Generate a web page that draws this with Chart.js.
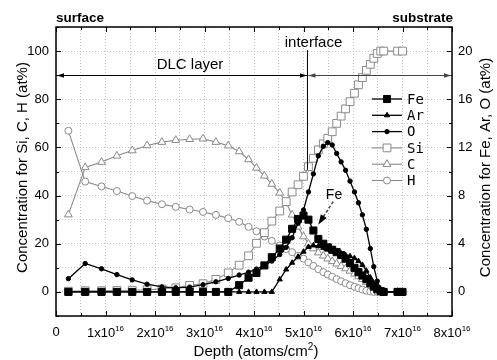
<!DOCTYPE html>
<html>
<head>
<meta charset="utf-8">
<title>Depth profile</title>
<script src="https://cdn.jsdelivr.net/npm/chart.js@4.4.1/dist/chart.umd.min.js"></script>
<style>
body { margin: 0; background: #fff; }
canvas { display: block; }
</style>
</head>
<body>
<canvas id="profileChart" width="497" height="360"></canvas>
<script>
// depth, in units of 1x10^16 atoms/cm2
var depth = [0.25, 0.59, 0.92, 1.23, 1.54, 1.84, 2.14, 2.42, 2.70, 2.97, 3.23, 3.48,
  3.70, 3.89, 4.05, 4.21, 4.36, 4.52, 4.65, 4.77, 4.89, 5.00,
  5.10, 5.20, 5.30, 5.40, 5.49, 5.58, 5.67, 5.76, 5.85, 5.94,
  6.03, 6.11, 6.19, 6.27, 6.35, 6.42, 6.49, 6.56, 6.62, 6.90, 7.00];

// right axis: Fe, Ar, O (at%)
var feData = [0, 0, 0, 0, 0, 0, 0, 0, 0, 0, 0, 0,
  0.56, 1.18, 1.58, 2.2, 2.88, 3.6, 4.34, 5.24, 6.06, 6.34,
  6.0, 5.1, 4.4, 4.0, 3.7, 3.5, 3.3, 3.06, 2.76, 2.4,
  2.0, 1.64, 1.36, 1.06, 0.72, 0.44, 0.22, 0.06, 0, 0, 0];
var arData = [0, 0, 0, 0, 0, 0, 0, 0, 0, 0, 0, 0,
  0, 0, 0, 0, 0, 1.04, 1.86, 2.42, 2.92, 3.34,
  3.74, 3.86, 3.8, 3.66, 3.52, 3.4, 3.3, 3.2, 3.06, 2.96,
  2.8, 2.56, 2.24, 1.76, 1.2, 0.7, 0.32, 0.08, 0, 0, 0];
var oData = [1.1, 2.36, 1.92, 1.44, 1.0, 0.64, 0.42, 0.34, 0.4, 0.6, 0.84, 1.12,
  1.4, 1.64, 1.9, 2.2, 2.56, 3.1, 3.7, 4.5, 5.7, 6.8,
  8.3, 9.8, 11.3, 12.1, 12.4, 12.2, 11.5, 10.8, 10.1, 9.2,
  8.3, 7.4, 6.4, 5.2, 3.6, 2.1, 0.9, 0.2, 0, 0, 0];

// left axis: Si, C, H (at%)
var siData = [0.3, 0.5, 0.5, 0.6, 0.7, 0.9, 1.2, 1.7, 2.7, 3.4, 5.2, 7.9,
  11.1, 15, 20.2, 24.6, 29.4, 33.6, 37.5, 41.5, 44.5, 48,
  52, 55.5, 59, 61.5, 63.8, 66.5, 70, 73, 76, 79,
  82.5, 86, 89, 92, 94.5, 97, 99, 100, 100, 100, 100];
var cData = [32.1, 51.7, 53.9, 56.5, 58.7, 60.8, 62.2, 63.0, 63.4, 63.6, 62.2, 60.7,
  58.3, 55, 51.5, 48.2, 44.8, 41.1, 37, 32, 27, 23,
  20, 18, 16.3, 15, 13.8, 12.7, 11.7, 10.7, 9.7, 8.7,
  7.5, 6.4, 5.3, 4.1, 3.0, 2.0, 1.1, 0.4, 0, 0, 0];
var hData = [66.9, 45.8, 43.8, 41.9, 39.8, 37.9, 36.4, 35.3, 34.2, 33.2, 32.0, 30.6,
  29.1, 27.0, 25.2, 23, 21.2, 19.3, 17.8, 16.5, 15, 13.8,
  12.2, 10.8, 9.4, 8.2, 7.2, 6.3, 5.3, 4.4, 3.6, 2.8,
  2.1, 1.5, 1.0, 0.5, 0.2, 0, 0, 0, 0, 0, 0];

var xLabels = [0, 1, 2, 3, 4, 5, 6, 7, 8];
var interfaceDepth = 5.08;

var FONT = "'Liberation Sans', Arial, sans-serif";
var GREY = '#8a8a8a';

function points(vals) {
  return depth.map(function (d, i) { return { x: d, y: vals[i] }; });
}

function blackSeries(label, vals, style, r) {
  return {
    label: label, data: points(vals), yAxisID: 'y2',
    borderColor: '#000', backgroundColor: '#000', borderWidth: 1.3,
    pointStyle: style, pointRadius: r, pointBorderWidth: 1,
    pointBackgroundColor: '#000', pointBorderColor: '#000'
  };
}
function greySeries(label, vals, style, r) {
  return {
    label: label, data: points(vals), yAxisID: 'y',
    borderColor: GREY, backgroundColor: '#fff', borderWidth: 1.1,
    pointStyle: style, pointRadius: r, pointBorderWidth: 1,
    pointBackgroundColor: '#fff', pointBorderColor: GREY
  };
}

var datasets = [
  blackSeries('Fe', feData, 'rect', 5),
  blackSeries('Ar', arData, 'triangle', 3),
  blackSeries('O', oData, 'circle', 2.2),
  greySeries('Si', siData, 'rect', 5.5),
  greySeries('C', cData, 'triangle', 4.5),
  greySeries('H', hData, 'circle', 3.5)
];

// draws a run of [text, font, rise] parts centred on cx
function drawRich(ctx, parts, cx, y) {
  var total = 0;
  parts.forEach(function (p) { ctx.font = p[1]; total += ctx.measureText(p[0]).width; });
  var x = cx - total / 2;
  ctx.textAlign = 'left';
  ctx.textBaseline = 'alphabetic';
  parts.forEach(function (p) {
    ctx.font = p[1];
    ctx.fillText(p[0], x, y - p[2]);
    x += ctx.measureText(p[0]).width;
  });
}

function head(ctx, x, y, ang, len, half) {
  ctx.save();
  ctx.translate(x, y);
  ctx.rotate(ang);
  ctx.beginPath();
  ctx.moveTo(0, 0);
  ctx.lineTo(-len, -half);
  ctx.lineTo(-len, half);
  ctx.closePath();
  ctx.fill();
  ctx.restore();
}

function twoWayArrow(ctx, x1, x2, y, color) {
  ctx.strokeStyle = color;
  ctx.fillStyle = color;
  ctx.lineWidth = 1.2;
  ctx.beginPath();
  ctx.moveTo(x1, y);
  ctx.lineTo(x2, y);
  ctx.stroke();
  head(ctx, x1, y, Math.PI, 7, 2.2);
  head(ctx, x2, y, 0, 7, 2.2);
}

function marker(ctx, style, x, y, r, fill, stroke) {
  ctx.beginPath();
  if (style === 'rect') {
    var s = r * Math.SQRT1_2;
    ctx.rect(x - s, y - s, 2 * s, 2 * s);
  } else if (style === 'triangle') {
    ctx.moveTo(x, y - r);
    ctx.lineTo(x + r * 0.866, y + r * 0.5);
    ctx.lineTo(x - r * 0.866, y + r * 0.5);
    ctx.closePath();
  } else {
    ctx.arc(x, y, r, 0, Math.PI * 2);
  }
  ctx.fillStyle = fill;
  ctx.fill();
  ctx.strokeStyle = stroke;
  ctx.lineWidth = 1;
  ctx.stroke();
}

var decor = {
  id: 'decor',
  afterDraw: function (chart) {
    var ctx = chart.ctx, a = chart.chartArea;
    var sx = chart.scales.x, sy = chart.scales.y, sy2 = chart.scales.y2;
    ctx.save();

    // frame
    ctx.strokeStyle = '#000';
    ctx.lineWidth = 1.5;
    ctx.strokeRect(a.left, a.top, a.right - a.left, a.bottom - a.top);

    // tick marks pointing inwards
    ctx.lineWidth = 1;
    ctx.beginPath();
    sx.ticks.forEach(function (t) {
      var p = Math.round(sx.getPixelForValue(t.value)) + 0.5;
      var len = Number.isInteger(t.value) ? 5 : 3;
      ctx.moveTo(p, a.bottom); ctx.lineTo(p, a.bottom - len);
      ctx.moveTo(p, a.top); ctx.lineTo(p, a.top + len);
    });
    sy.ticks.forEach(function (t) {
      var p = Math.round(sy.getPixelForValue(t.value)) + 0.5;
      var len = t.value % 20 === 0 ? 5 : 3;
      ctx.moveTo(a.left, p); ctx.lineTo(a.left + len, p);
    });
    sy2.ticks.forEach(function (t) {
      var p = Math.round(sy2.getPixelForValue(t.value)) + 0.5;
      var len = t.value % 4 === 0 ? 5 : 3;
      ctx.moveTo(a.right, p); ctx.lineTo(a.right - len, p);
    });
    ctx.stroke();

    // x tick labels with superscript exponent
    ctx.fillStyle = '#000';
    xLabels.forEach(function (v) {
      var p = sx.getPixelForValue(v);
      if (v === 0) {
        drawRich(ctx, [['0', '13px ' + FONT, 0]], p, 336);
      } else {
        drawRich(ctx, [[v + 'x10', '13px ' + FONT, 0], ['16', '8px ' + FONT, 6]], p, 337);
      }
    });

    // axis titles
    drawRich(ctx, [['Depth (atoms/cm', '15px ' + FONT, 0], ['2', '10px ' + FONT, 6],
      [')', '15px ' + FONT, 0]], (a.left + a.right) / 2 + 2, 356);
    ctx.font = '15px ' + FONT;
    ctx.textAlign = 'center';
    ctx.textBaseline = 'middle';
    ctx.save();
    ctx.translate(23, (a.top + a.bottom) / 2 - 4);
    ctx.rotate(-Math.PI / 2);
    ctx.fillText('Concentration for Si, C, H (at%)', 0, 0);
    ctx.restore();
    ctx.save();
    ctx.translate(486, (a.top + a.bottom) / 2 - 4);
    ctx.rotate(-Math.PI / 2);
    ctx.fillText('Concentration for Fe, Ar, O (at%)', 0, 0);
    ctx.restore();

    // surface / substrate
    ctx.font = 'bold 13.5px ' + FONT;
    ctx.textBaseline = 'alphabetic';
    ctx.textAlign = 'left';
    ctx.fillText('surface', a.left, 21.5);
    ctx.textAlign = 'right';
    ctx.fillText('substrate', a.right + 1, 21.5);

    // interface marker and layer arrows
    var xi = sx.getPixelForValue(interfaceDepth);
    ctx.strokeStyle = '#000';
    ctx.lineWidth = 1;
    ctx.beginPath();
    ctx.moveTo(xi, sy.getPixelForValue(100.4));
    ctx.lineTo(xi, sy.getPixelForValue(50.7));
    ctx.stroke();
    var ya = Math.round(sy.getPixelForValue(90)) + 0.5;
    twoWayArrow(ctx, a.left + 1, xi - 0.5, ya, '#000');
    twoWayArrow(ctx, xi + 1, a.right - 1, ya, '#444');

    ctx.fillStyle = '#000';
    ctx.font = '15px ' + FONT;
    ctx.textAlign = 'center';
    ctx.fillText('interface', 313.5, 46.5);
    ctx.fillText('DLC layer', 190, 69);
    ctx.font = '14px ' + FONT;
    ctx.fillText('Fe', 334, 198.5);

    // dashed pointer to the Fe peak
    var p1x = sx.getPixelForValue(5.6), p1y = sy.getPixelForValue(37.5);
    var p2x = sx.getPixelForValue(5.30), p2y = sy.getPixelForValue(28);
    var ang = Math.atan2(p2y - p1y, p2x - p1x);
    ctx.setLineDash([3, 2]);
    ctx.lineWidth = 1.5;
    ctx.beginPath();
    ctx.moveTo(p1x, p1y);
    ctx.lineTo(p2x - Math.cos(ang) * 8, p2y - Math.sin(ang) * 8);
    ctx.stroke();
    ctx.setLineDash([]);
    head(ctx, p2x, p2y, ang, 10, 3.5);

    // legend
    ctx.font = '14px "DejaVu Sans Mono", monospace';
    ctx.textAlign = 'left';
    ctx.textBaseline = 'middle';
    chart.data.datasets.forEach(function (ds, i) {
      var y = 99 + i * 16.3;
      ctx.strokeStyle = ds.borderColor;
      ctx.lineWidth = ds.borderWidth;
      ctx.beginPath();
      ctx.moveTo(372, y);
      ctx.lineTo(402, y);
      ctx.stroke();
      marker(ctx, ds.pointStyle, 387, y, ds.pointRadius, ds.pointBackgroundColor, ds.pointBorderColor);
      ctx.fillStyle = '#000';
      ctx.fillText(ds.label, 407, y + 1);
    });

    ctx.restore();
  }
};

var gridOpts = { color: '#c4c4c4', lineWidth: 1, drawTicks: false };
var borderOpts = { display: false, dash: [1, 2] };

var profileChart = new Chart(document.getElementById('profileChart'), {
  type: 'line',
  data: { datasets: datasets },
  options: {
    responsive: false,
    animation: false,
    devicePixelRatio: 1,
    layout: { padding: { top: 27 } },
    plugins: { legend: { display: false }, tooltip: { enabled: false } },
    elements: { line: { tension: 0 } },
    scales: {
      x: {
        type: 'linear', min: 0, max: 8,
        ticks: { stepSize: 0.5, display: false },
        grid: gridOpts, border: borderOpts,
        afterFit: function (s) { s.height = 44; }
      },
      y: {
        position: 'left', min: -10, max: 110,
        ticks: {
          stepSize: 10, padding: 7, color: '#000',
          font: { family: FONT, size: 13 },
          callback: function (v) { return (v >= 0 && v % 20 === 0) ? v : ''; }
        },
        grid: gridOpts, border: borderOpts,
        afterFit: function (s) { s.width = 56; }
      },
      y2: {
        position: 'right', min: -2, max: 22,
        ticks: {
          stepSize: 2, padding: 6, color: '#000',
          font: { family: FONT, size: 13 },
          callback: function (v) { return (v >= 0 && v % 4 === 0) ? v : ''; }
        },
        grid: { drawOnChartArea: false, drawTicks: false },
        border: { display: false },
        afterFit: function (s) { s.width = 45; }
      }
    }
  },
  plugins: [decor]
});
</script>
</body>
</html>
